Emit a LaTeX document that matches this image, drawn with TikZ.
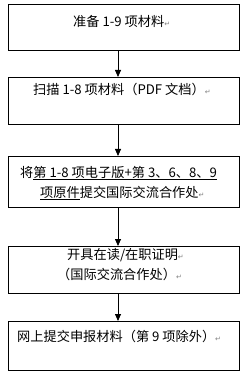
\documentclass[tikz,border=0pt]{standalone}
\usepackage{fontspec}
\setmainfont{Noto Sans CJK SC}
\newfontfamily\symfont{DejaVu Sans}
\usetikzlibrary{arrows.meta}
\newcommand{\retmark}{{\symfont\color{gray}\fontsize{7}{7}\selectfont ↵}}
\begin{document}
\begin{tikzpicture}[x=1pt,y=-1pt,
  box/.style={draw, line width=0.9pt, minimum width=231pt, anchor=north west, inner sep=0pt},
  lbl/.style={font=\fontsize{13.2}{15}\selectfont, inner sep=0pt, anchor=base west},
  arr/.style={-{Triangle[length=7pt,width=6pt]}, line width=0.8pt}]
\useasboundingbox (0,0) rectangle (249,379);
\node[box, minimum height=46pt] (b1) at (8,4) {};
\node[box, minimum height=47pt] (b2) at (8,77) {};
\node[box, minimum height=51pt] (b3) at (8,156) {};
\node[box, minimum height=47pt] (b4) at (8,246) {};
\node[box, minimum height=49pt] (b5) at (8,321) {};
\coordinate (ax) at (118,0);
\draw[arr] (ax |- b1.south) -- (ax |- b2.north);
\draw[arr] (ax |- b2.south) -- (ax |- b3.north);
\draw[arr] (ax |- b3.south) -- (ax |- b4.north);
\draw[arr] (ax |- b4.south) -- (ax |- b5.north);
\node[lbl] (t1) at (73,27) {准备 1-9 项材料\retmark};
\node[lbl] (t2) at (33,95) {扫描 1-8 项材料（PDF 文档）\retmark};
\node[lbl] (t3a) at (20,177) {将\underline{第 1-8 项电子版+第 3、6、8、9}};
\node[lbl] (t3b) at (40,197) {\underline{项原件}提交国际交流合作处\retmark};
\node[lbl] (t4a) at (67,259) {开具在读/在职证明\retmark};
\node[lbl] (t4b) at (57,279) {（国际交流合作处）\retmark};
\node[lbl] (t5) at (17,341) {网上提交申报材料（第 9 项除外）\retmark};
\end{tikzpicture}
\end{document}
